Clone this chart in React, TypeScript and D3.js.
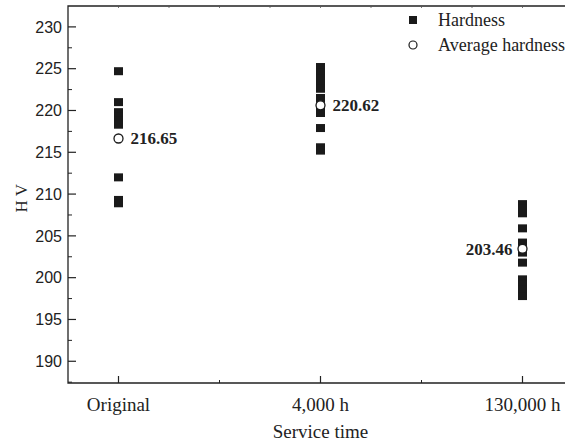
import React from 'react'
import * as d3 from 'd3'

const categories = ['Original', '4,000 h', '130,000 h']
const hardnessOriginal = [224.7, 221.0, 219.8, 219.3, 218.8, 218.3, 212.0, 209.3, 208.9]
const hardness4000 = [225.2, 224.5, 223.8, 223.1, 222.6, 221.5, 220.9, 220.3, 219.7, 217.9, 215.6, 215.2]
const hardness130000 = [208.8, 208.3, 207.7, 205.9, 204.2, 203.0, 201.8, 199.8, 199.2, 198.6, 197.8]
const averages = [216.65, 220.62, 203.46]
const yTicks = [190, 195, 200, 205, 210, 215, 220, 225, 230]

const series = [hardnessOriginal, hardness4000, hardness130000]

const width = 565
const height = 442
const left = 68
const top = 6
const bottom = 383
const right = 573

const x = d3.scaleLinear().domain([0.75, 3.25]).range([left, right])
const y = d3.scaleLinear().domain([187.4, 232.5]).range([bottom, top])

const sans = '"Liberation Sans", Arial, sans-serif'
const serif = '"Liberation Serif", "Times New Roman", serif'

export default function App() {
  const minorY = d3.range(187.5, 232.5, 5)
  const minorX = [1.5, 2.5]
  const topTicks = d3.range(1, 3.26, 0.25)
  return (
    <svg
      width={width}
      height={height}
      style={{ position: 'absolute', left: 0, top: 0, background: '#fff' }}
    >
      {/* frame */}
      <path
        d={`M${right},${top}H${left}V${bottom}H${right}`}
        fill="none"
        stroke="#222"
        strokeWidth={1.3}
      />
      {/* y ticks */}
      {yTicks.map(t => (
        <g key={t}>
          <line x1={left} x2={left + 8} y1={y(t)} y2={y(t)} stroke="#222" strokeWidth={1.2} />
          <text
            x={left - 6}
            y={y(t)}
            dy="0.36em"
            textAnchor="end"
            fontFamily={sans}
            fontSize={16}
            fill="#222"
          >
            {t}
          </text>
        </g>
      ))}
      {minorY.map(t => (
        <line key={t} x1={left} x2={left + 4} y1={y(t)} y2={y(t)} stroke="#222" strokeWidth={1} />
      ))}
      {/* x ticks */}
      {categories.map((c, i) => (
        <g key={c}>
          <line x1={x(i + 1)} x2={x(i + 1)} y1={bottom} y2={bottom - 7} stroke="#222" strokeWidth={1.2} />
          <text
            x={x(i + 1)}
            y={411}
            textAnchor="middle"
            fontFamily={serif}
            fontSize={19}
            fill="#222"
          >
            {c}
          </text>
        </g>
      ))}
      {minorX.map(t => (
        <line key={t} x1={x(t)} x2={x(t)} y1={bottom} y2={bottom - 3} stroke="#222" strokeWidth={1} />
      ))}
      {topTicks.map(t => (
        <line key={t} x1={x(t)} x2={x(t)} y1={top} y2={top + 2} stroke="#555" strokeWidth={0.8} />
      ))}
      {/* axis titles */}
      <text x={x(2)} y={438} textAnchor="middle" fontFamily={serif} fontSize={19} fill="#222">
        Service time
      </text>
      <text
        transform={`translate(27,${y(209.5)}) rotate(-90)`}
        textAnchor="middle"
        fontFamily={serif}
        fontSize={17}
        fill="#222"
      >
        H V
      </text>
      {/* hardness points */}
      {series.map((vals, i) =>
        vals.map((v, j) => (
          <rect
            key={`${i}-${j}`}
            x={x(i + 1) - 4.5}
            y={y(v) - 4}
            width={9}
            height={8}
            fill="#1a1a1a"
          />
        ))
      )}
      {/* averages */}
      {averages.map((v, i) => (
        <g key={i}>
          <circle cx={x(i + 1)} cy={y(v)} r={4.5} fill="#fff" stroke="#1a1a1a" strokeWidth={1.3} />
          <text
            x={i === 2 ? x(i + 1) - 10 : x(i + 1) + 12}
            y={y(v)}
            dy="0.35em"
            textAnchor={i === 2 ? 'end' : 'start'}
            fontFamily={serif}
            fontWeight="bold"
            fontSize={17}
            fill="#222"
          >
            {v.toFixed(2)}
          </text>
        </g>
      ))}
      {/* legend */}
      <rect x={409} y={16} width={8} height={8} fill="#1a1a1a" />
      <text x={438} y={20} dy="0.35em" fontFamily={serif} fontSize={18} fill="#222">
        Hardness
      </text>
      <circle cx={413} cy={45} r={4} fill="#fff" stroke="#1a1a1a" strokeWidth={1.2} />
      <text x={438} y={45} dy="0.35em" fontFamily={serif} fontSize={18} fill="#222">
        Average hardness
      </text>
    </svg>
  )
}
